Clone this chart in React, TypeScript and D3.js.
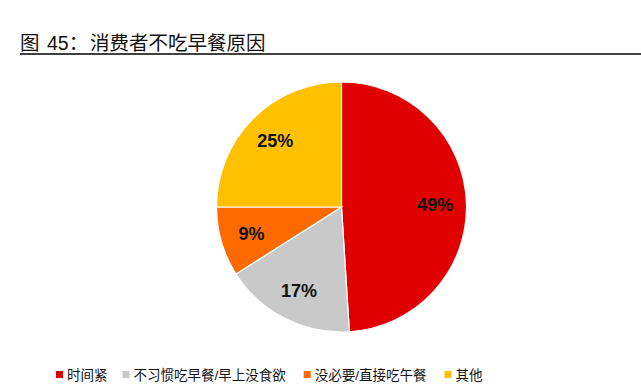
import React from 'react';
import * as d3 from 'd3';

const categories = ['时间紧', '不习惯吃早餐/早上没食欲', '没必要/直接吃午餐', '其他'];
const shares = [49, 17, 9, 25];
const colors = ['#E00000', '#C9C9C9', '#FF6A00', '#FFC000'];

const W = 641;
const H = 385;
const FONT = '"Liberation Sans", Arial, "Noto Sans CJK SC", sans-serif';

// rough text width: CJK full width, ascii half width
const textWidth = (s: string, size: number) =>
  Array.from(s).reduce((w, c) => w + (c.charCodeAt(0) > 255 ? size : size * 0.5), 0);

export default function App() {
  const cx = 341.5;
  const cy = 207;
  const r = 125;

  const data = categories.map((name, i) => ({ name, value: shares[i], color: colors[i] }));
  const pie = d3.pie<any>().sort(null).value(d => d.value);
  const arcs = pie(data);
  const arc = d3.arc<any>().innerRadius(0).outerRadius(r);
  const labelArc = d3.arc<any>().innerRadius(r * 0.75).outerRadius(r * 0.75);

  // legend layout
  const legendSize = 13.5;
  const sq = 7;
  let lx = 56;
  const legendItems = data.map(d => {
    const item = { ...d, x: lx };
    lx += sq + 4 + textWidth(d.name, legendSize) + 15;
    return item;
  });

  return (
    <svg width={W} height={H} style={{ position: 'absolute', left: 0, top: 0, background: '#fff' }}
      fontFamily={FONT}>
      <rect width={W} height={H} fill="#fff" />
      <text y={50} fontSize={19.5} fill="#111">
        <tspan x={20}>图</tspan>
        <tspan x={47}>45：</tspan>
        <tspan x={90}>消费者不吃早餐原因</tspan>
      </text>
      <line x1={20} x2={W} y1={54} y2={54} stroke="#000" strokeWidth={1.6} />

      <g transform={`translate(${cx},${cy})`}>
        {arcs.map((a, i) => (
          <path key={i} d={arc(a) as string} fill={a.data.color} stroke="#fff" strokeWidth={1.2} />
        ))}
        {arcs.map((a, i) => {
          const [x, y] = labelArc.centroid(a);
          return (
            <text key={i} x={x} y={y} dy="0.36em" textAnchor="middle" fontSize={18}
              fontWeight="bold" fill="#111">
              {a.data.value}%
            </text>
          );
        })}
      </g>

      <g>
        {legendItems.map((d, i) => (
          <g key={i}>
            <rect x={d.x} y={371} width={sq} height={sq} fill={d.color} />
            <text x={d.x + sq + 4} y={375} dy="0.35em" fontSize={legendSize} fill="#111">
              {d.name}
            </text>
          </g>
        ))}
      </g>
    </svg>
  );
}
